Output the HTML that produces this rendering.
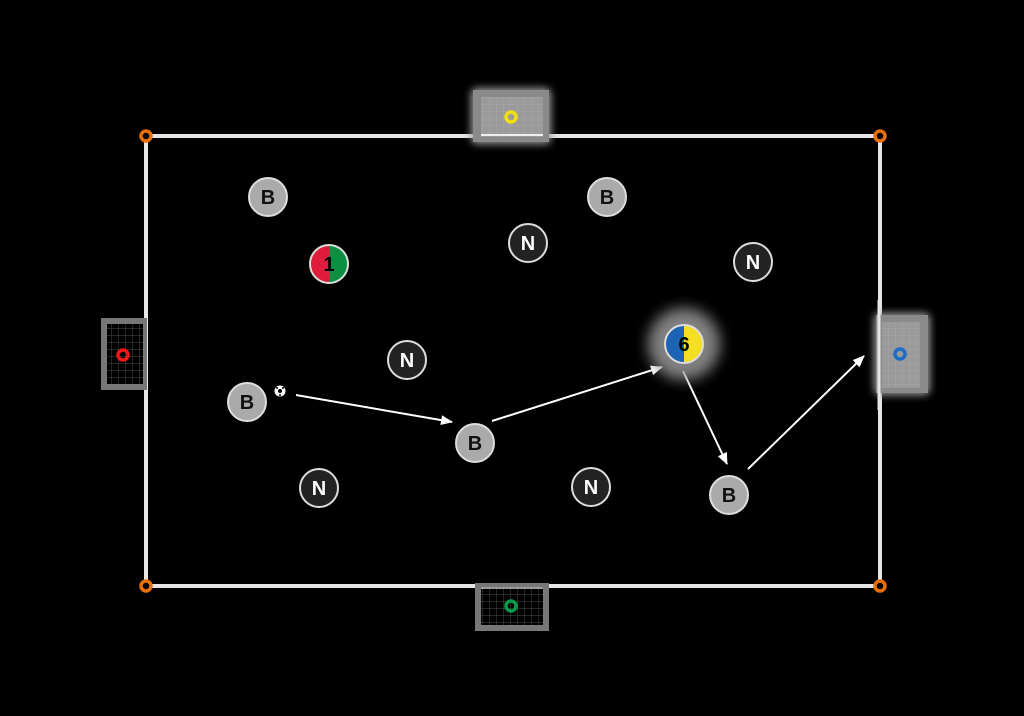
<!DOCTYPE html>
<html><head><meta charset="utf-8"><style>html,body{margin:0;padding:0;background:#000}svg{display:block}</style></head><body>
<svg width="1024" height="716" viewBox="0 0 1024 716" xmlns="http://www.w3.org/2000/svg" font-family="Liberation Sans, sans-serif">
<defs>
<filter id="glow" x="-50%" y="-50%" width="200%" height="200%"><feGaussianBlur stdDeviation="4"/></filter>
<filter id="glow2" x="-50%" y="-50%" width="200%" height="200%"><feGaussianBlur stdDeviation="7"/></filter>
<pattern id="gridL" width="7" height="7" patternUnits="userSpaceOnUse"><path d="M7 0V7M0 7H7" stroke="#aaa" stroke-width="0.7" fill="none"/></pattern>
<pattern id="gridD" width="7" height="7" patternUnits="userSpaceOnUse"><path d="M7 0V7M0 7H7" stroke="#666" stroke-width="0.7" fill="none"/></pattern>
<marker id="ar" markerWidth="12" markerHeight="12" refX="11" refY="6" orient="auto" markerUnits="userSpaceOnUse"><path d="M0 1L12 6L0 11z" fill="#fff"/></marker>
</defs>
<rect width="1024" height="716" fill="#000"/>
<rect x="146" y="136" width="734" height="450" fill="none" stroke="#e6e6e6" stroke-width="4"/>
<!-- top goal -->
<rect x="471" y="88" width="80" height="56" rx="6" fill="#999" filter="url(#glow)"/>
<rect x="473" y="90" width="76" height="52" fill="#8a8a8a"/>
<rect x="481" y="97" width="62" height="40" fill="#9a9a9a"/>
<rect x="481" y="97" width="62" height="40" fill="url(#gridL)"/>
<line x1="481" y1="135" x2="543" y2="135" stroke="#eee" stroke-width="2"/>
<circle cx="511" cy="117" r="5" fill="none" stroke="#f2e010" stroke-width="3.5"/>
<!-- left goal -->
<rect x="101" y="318" width="46" height="72" fill="#777"/>
<rect x="107" y="324" width="36" height="60" fill="#000"/>
<rect x="107" y="324" width="36" height="60" fill="url(#gridD)"/>
<circle cx="123" cy="355" r="5" fill="none" stroke="#f01818" stroke-width="3.5"/>
<!-- right goal -->
<rect x="874" y="313" width="56" height="82" rx="6" fill="#999" filter="url(#glow)"/>
<rect x="876" y="315" width="52" height="78" fill="#8a8a8a"/>
<rect x="882" y="322" width="38" height="66" fill="#9a9a9a"/>
<rect x="882" y="322" width="38" height="66" fill="url(#gridL)"/>
<circle cx="900" cy="354" r="5" fill="none" stroke="#1e6cc8" stroke-width="3.5"/>
<line x1="879" y1="300" x2="879" y2="410" stroke="#e6e6e6" stroke-width="3"/>
<!-- bottom goal -->
<rect x="475" y="583" width="74" height="48" fill="#777"/>
<rect x="481" y="587" width="62" height="38" fill="#000"/>
<rect x="481" y="587" width="62" height="38" fill="url(#gridD)"/>
<line x1="481" y1="588" x2="543" y2="588" stroke="#ccc" stroke-width="1.5"/>
<circle cx="511" cy="606" r="5" fill="none" stroke="#0a9a4a" stroke-width="3.5"/>
<!-- corners -->
<g fill="#000" stroke="#e8700a" stroke-width="3.5">
<circle cx="146" cy="136" r="5"/><circle cx="880" cy="136" r="5"/><circle cx="146" cy="586" r="5"/><circle cx="880" cy="586" r="5"/>
</g>
<!-- arrows -->
<g stroke="#fff" stroke-width="2" marker-end="url(#ar)">
<line x1="296" y1="395" x2="452" y2="422"/>
<line x1="492" y1="421" x2="662" y2="367"/>
<line x1="683" y1="371" x2="727" y2="464"/>
<line x1="748" y1="469" x2="864" y2="356"/>
</g>
<g font-size="20" font-weight="bold" text-anchor="middle">
<g fill="#aaa" stroke="#ddd" stroke-width="2">
<circle cx="268" cy="197" r="19"/><circle cx="607" cy="197" r="19"/><circle cx="247" cy="402" r="19"/><circle cx="475" cy="443" r="19"/><circle cx="729" cy="495" r="19"/>
</g>
<g fill="#111">
<text x="268" y="204">B</text><text x="607" y="204">B</text><text x="247" y="409">B</text><text x="475" y="450">B</text><text x="729" y="502">B</text>
</g>
<g fill="#222" stroke="#ddd" stroke-width="2">
<circle cx="528" cy="243" r="19"/><circle cx="753" cy="262" r="19"/><circle cx="407" cy="360" r="19"/><circle cx="319" cy="488" r="19"/><circle cx="591" cy="487" r="19"/>
</g>
<g fill="#fff">
<text x="528" y="250">N</text><text x="753" y="269">N</text><text x="407" y="367">N</text><text x="319" y="495">N</text><text x="591" y="494">N</text>
</g>
<path d="M329 245 A19 19 0 0 0 329 283Z" fill="#e01c3c"/>
<path d="M329 245 A19 19 0 0 1 329 283Z" fill="#0a9040"/>
<circle cx="329" cy="264" r="19" fill="none" stroke="#ddd" stroke-width="2"/>
<text x="329" y="271" fill="#000">1</text>
<circle cx="684" cy="344" r="36" fill="#999" opacity="0.85" filter="url(#glow2)"/>
<path d="M684 325 A19 19 0 0 0 684 363Z" fill="#1e64b4"/>
<path d="M684 325 A19 19 0 0 1 684 363Z" fill="#f4e020"/>
<circle cx="684" cy="344" r="19" fill="none" stroke="#ddd" stroke-width="2"/>
<text x="684" y="351" fill="#000">6</text>
</g>
<circle cx="280" cy="391" r="6" fill="#fff" stroke="#000" stroke-width="1"/>
<circle cx="280" cy="391" r="2" fill="#000"/>
<circle cx="277" cy="388" r="1" fill="#000"/><circle cx="283" cy="388" r="1" fill="#000"/><circle cx="280" cy="395" r="1" fill="#000"/>
</svg>
</body></html>
